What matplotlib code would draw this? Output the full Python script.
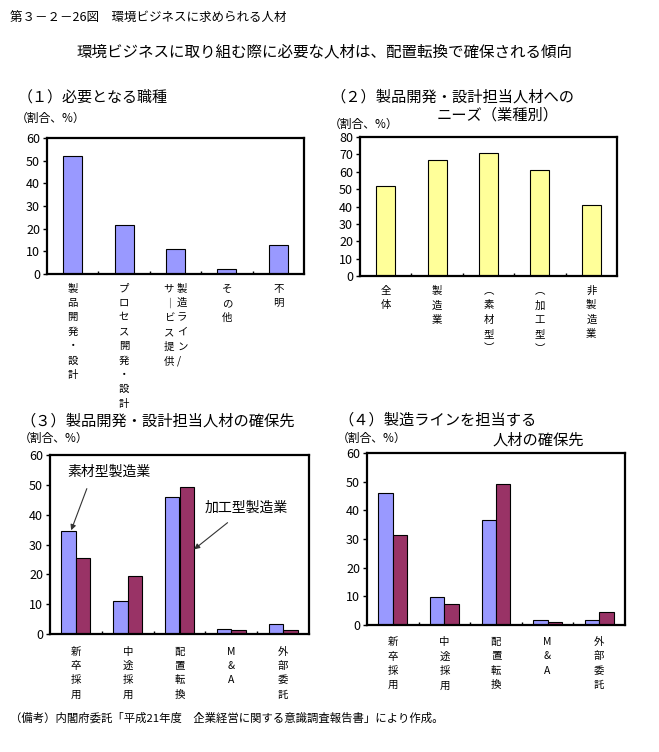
import matplotlib
matplotlib.use("Agg")
import matplotlib.pyplot as plt

plt.rcParams['font.family'] = ['Noto Sans CJK JP', 'DejaVu Sans']

W, H = 659, 752

# (1) 必要となる職種
cat1 = ["製品開発・設計", "プロセス開発・設計", None, "その他", "不明"]
val1 = [52, 21.5, 11, 2, 13]

# (2) 製品開発・設計担当人材へのニーズ（業種別）
cat2 = ["全体", "製造業", "︵素材型︶", "︵加工型︶", "非製造業"]
val2 = [52, 66.5, 71, 61, 41]

# (3)(4) 確保先
cat34 = ["新卒採用", "中途採用", "配置転換", "M&A", "外部委託"]
val3_sozai = [34.5, 11, 46, 1.8, 3.5]
val3_kako = [25.5, 19.3, 49.3, 1.2, 1.2]
val4_sozai = [46, 9.7, 36.5, 1.9, 1.9]
val4_kako = [31.3, 7.2, 49.2, 1.2, 4.4]

BLUE = "#9999FF"
YELLOW = "#FFFF99"
RED = "#993366"

fig = plt.figure(figsize=(W / 100, H / 100), dpi=100)


def px_axes(l, t, r, b):
    return fig.add_axes([l / W, 1 - b / H, (r - l) / W, (b - t) / H])


def px_text(x, y, s, size=9.5, **kw):
    fig.text(x / W, 1 - y / H, s, fontsize=size, va="center", **kw)


def vert(s):
    return "\n".join(s)


LS = 1.55


def style(ax, ymax, step, labels):
    n = len(labels)
    ax.set_xlim(-0.5, n - 0.5)
    ax.set_ylim(0, ymax)
    ax.set_yticks(range(0, ymax + 1, step))
    ax.tick_params(axis="y", direction="out", length=3, width=1, labelsize=9, pad=2)
    ax.set_xticks([i + 0.5 for i in range(n - 1)])
    ax.set_xticklabels([])
    ax.tick_params(axis="x", direction="in", length=2, width=1)
    for sp in ax.spines.values():
        sp.set_linewidth(1.6)
    for i, lab in enumerate(labels):
        if lab is None:
            continue
        ax.text(i, -0.07 * ymax, vert(lab), ha="center", va="top",
                fontsize=7.5, linespacing=LS, clip_on=False)


px_text(10, 18, "第３－２－26図　環境ビジネスに求められる人材", size=9)
px_text(325, 52, "環境ビジネスに取り組む際に必要な人材は、配置転換で確保される傾向",
        size=11.2, ha="center")
px_text(10, 718, "（備考）内閣府委託「平成21年度　企業経営に関する意識調査報告書」により作成。",
        size=8.2)

# (1)
ax1 = px_axes(47, 138, 304, 274)
ax1.bar(range(len(val1)), val1, width=0.37, color=BLUE, edgecolor="black", linewidth=0.8)
style(ax1, 60, 10, cat1)
ax1.text(1.97, -4.2, vert("サ｜ビス提供"), ha="right", va="top", fontsize=7.5,
         linespacing=LS)
ax1.text(2.03, -4.2, vert("製造ライン/"), ha="left", va="top", fontsize=7.5,
         linespacing=LS)
px_text(18, 97, "（１）必要となる職種", size=10.8)
px_text(16, 118, "（割合、%）", size=8.5)

# (2)
ax2 = px_axes(360, 137, 617, 276)
ax2.bar(range(len(val2)), val2, width=0.37, color=YELLOW, edgecolor="black", linewidth=0.8)
style(ax2, 80, 10, cat2)
px_text(330, 97, "（２）製品開発・設計担当人材への", size=11)
px_text(437, 115, "ニーズ（業種別）", size=11)
px_text(329, 124, "（割合、%）", size=8.5)

# (3)
bw = 0.28
ax3 = px_axes(50, 455, 309, 634)
xs = range(len(cat34))
ax3.bar([i - bw / 2 for i in xs], val3_sozai, width=bw, color=BLUE, edgecolor="black", linewidth=0.8)
ax3.bar([i + bw / 2 for i in xs], val3_kako, width=bw, color=RED, edgecolor="black", linewidth=0.8)
style(ax3, 60, 10, cat34)
ax3.annotate("", xy=(-0.11, 33.9), xytext=(0.23, 49.6),
             arrowprops=dict(arrowstyle="-|>", lw=0.8, color="#333333", mutation_scale=8))
ax3.text(0.64, 54.3, "素材型製造業", ha="center", va="center", fontsize=10)
ax3.annotate("", xy=(2.24, 27.8), xytext=(2.97, 37.9),
             arrowprops=dict(arrowstyle="-|>", lw=0.8, color="#333333", mutation_scale=8))
ax3.text(3.28, 42.2, "加工型製造業", ha="center", va="center", fontsize=10)
px_text(20, 421, "（３）製品開発・設計担当人材の確保先", size=11)
px_text(19, 438, "（割合、%）", size=8.5)

# (4)
ax4 = px_axes(367, 453, 625, 625)
ax4.bar([i - bw / 2 for i in xs], val4_sozai, width=bw, color=BLUE, edgecolor="black", linewidth=0.8)
ax4.bar([i + bw / 2 for i in xs], val4_kako, width=bw, color=RED, edgecolor="black", linewidth=0.8)
style(ax4, 60, 10, cat34)
px_text(338, 420, "（４）製造ラインを担当する", size=11)
px_text(337, 438, "（割合、%）", size=8.5)
px_text(493, 440, "人材の確保先", size=11)

fig.savefig("out.png", dpi=100)
